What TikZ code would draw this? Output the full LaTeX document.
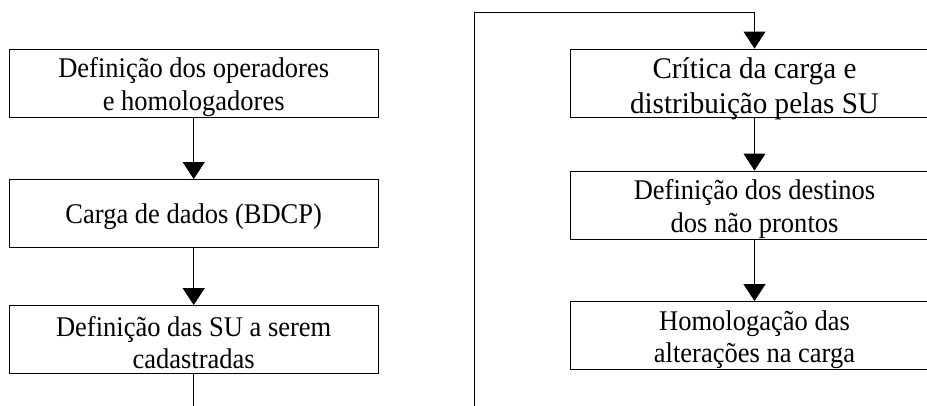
\documentclass[tikz,border=0pt]{standalone}
\usepackage{fontspec}
\setmainfont{Liberation Serif}
\newfontfamily\narrowfont[FakeStretch=0.93]{Liberation Serif}
\newfontfamily\bigfont[FakeStretch=0.97]{Liberation Serif}
\usetikzlibrary{arrows.meta}
\begin{document}
\begin{tikzpicture}[x=1pt,y=-1pt,
  box/.style={draw=black,line width=0.9pt,minimum width=368.5pt,minimum height=68pt,inner sep=0pt},
  txt/.style={inner sep=0pt,align=center,font=\narrowfont\fontsize{28.5}{32.5}\selectfont},
  bigtxt/.style={txt,font=\bigfont\fontsize{30}{35}\selectfont},
  conn/.style={draw=black,line width=0.9pt},
  arr/.style={conn,-{Triangle[width=22pt,length=17pt]}}]
\useasboundingbox (0,0) rectangle (927,405);
\clip (0,0) rectangle (927,405);
\node[box] (b1) at (193.7,83) {};
\node[box] (b2) at (193.7,213.5) {};
\node[box] (b3) at (193.7,339.5) {};
\node[box] (r1) at (754.5,83) {};
\node[box] (r2) at (754.5,205) {};
\node[box] (r3) at (754.5,335.5) {};
\node[txt] (b1t) at ([yshift=-4pt]b1.center) {Definição dos operadores\\e homologadores};
\node[txt] (b2t) at ([yshift=-3pt]b2.center) {Carga de dados (BDCP)};
\node[txt] (b3t) at ([yshift=-3pt]b3.center) {Definição das SU a serem\\cadastradas};
\node[bigtxt] (r1t) at ([yshift=-5.5pt]r1.center) {Crítica da carga e\\distribuição pelas SU};
\node[txt] (r2t) at ([yshift=-4pt]r2.center) {Definição dos destinos\\dos não prontos};
\node[txt] (r3t) at ([yshift=-4pt]r3.center) {Homologação das\\alterações na carga};
\coordinate (lb) at (193.7,410);
\coordinate (rb) at (474,410);
\coordinate (rt) at (474,12);
\draw[arr] (b1.south) -- (b2.north);
\draw[arr] (b2.south) -- (b3.north);
\draw[conn] (b3.south) -- (lb);
\draw[arr] (rb) -- (rt) -| (r1.north);
\draw[arr] (r1.south) -- (r2.north);
\draw[arr] (r2.south) -- (r3.north);
\end{tikzpicture}
\end{document}
